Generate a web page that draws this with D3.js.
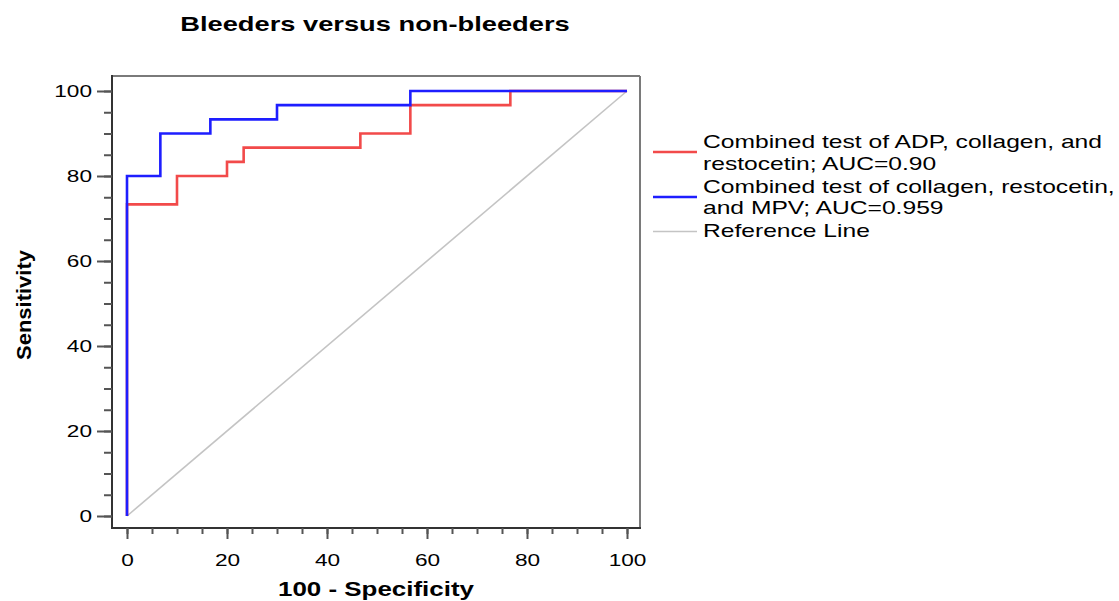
<!DOCTYPE html>
<html>
<head>
<meta charset="utf-8">
<script src="https://cdn.jsdelivr.net/npm/d3@7"></script>
<style>
  html, body { margin: 0; padding: 0; background: #fff; }
  svg { display: block; }
  text { font-family: "Liberation Sans", Arial, sans-serif; fill: #000; }
</style>
</head>
<body>
<svg id="chart" width="1119" height="601"></svg>
<script>
// ---- Data ----
const titleText = "Bleeders versus non-bleeders";
const xLabel = "100 - Specificity";
const yLabel = "Sensitivity";
const majorTicks = [0, 20, 40, 60, 80, 100];
const minorTicks = [0, 5, 10, 15, 20, 25, 30, 35, 40, 45, 50, 55, 60, 65, 70, 75, 80, 85, 90, 95, 100];

// ROC corner points (100 - specificity, sensitivity)
const adpX = [0, 0, 10, 20, 23.33, 46.67, 56.67, 76.67, 100];
const adpY = [0, 73.33, 80, 83.33, 86.67, 90, 96.67, 100, 100];
const mpvX = [0, 0, 6.67, 16.67, 30, 56.67, 100];
const mpvY = [0, 80, 90, 93.33, 96.67, 100, 100];
const refX = [0, 100];
const refY = [0, 100];

const seriesNames = [
  ["Combined test of ADP, collagen, and", "restocetin; AUC=0.90"],
  ["Combined test of collagen, restocetin,", "and MPV; AUC=0.959"],
  ["Reference Line"]
];

// ---- Layout ----
const svg = d3.select("#chart");
const SX = 1.33; // horizontal text stretch seen in the reference
const frame = {left: 112, right: 640, top: 76, bottom: 528};
const x = d3.scaleLinear().domain([0, 100]).range([127, 627]);
const y = d3.scaleLinear().domain([0, 100]).range([516, 91]);

function stretch(sel, factor) {
  sel.each(function() {
    const len = this.getComputedTextLength();
    d3.select(this).attr("textLength", len * factor).attr("lengthAdjust", "spacingAndGlyphs");
  });
}

// Title
svg.append("text")
  .attr("x", 375).attr("y", 31)
  .attr("text-anchor", "middle")
  .style("font-size", "20.5px").style("font-weight", "bold")
  .text(titleText)
  .call(stretch, SX);

// Frame (top/right grey, left/bottom dark)
svg.append("line").attr("x1", frame.left).attr("x2", frame.right).attr("y1", frame.top).attr("y2", frame.top)
  .attr("stroke", "#7a7a7a").attr("stroke-width", 2);
svg.append("line").attr("x1", frame.right).attr("x2", frame.right).attr("y1", frame.top).attr("y2", frame.bottom)
  .attr("stroke", "#7a7a7a").attr("stroke-width", 2);
svg.append("line").attr("x1", frame.left).attr("x2", frame.left).attr("y1", frame.top - 1).attr("y2", frame.bottom + 1)
  .attr("stroke", "#333").attr("stroke-width", 2);
svg.append("line").attr("x1", frame.left - 1).attr("x2", frame.right + 1).attr("y1", frame.bottom).attr("y2", frame.bottom)
  .attr("stroke", "#333").attr("stroke-width", 2);

// Axes
const yMinor = svg.append("g").attr("transform", `translate(${frame.left},0)`)
  .call(d3.axisLeft(y).tickValues(minorTicks).tickSize(8).tickFormat(""));
const yMajor = svg.append("g").attr("transform", `translate(${frame.left},0)`)
  .call(d3.axisLeft(y).tickValues(majorTicks).tickSize(15).tickPadding(5).tickFormat(d3.format("d")));
const xMinor = svg.append("g").attr("transform", `translate(0,${frame.bottom})`)
  .call(d3.axisBottom(x).tickValues(minorTicks).tickSize(6).tickFormat(""));
const xMajor = svg.append("g").attr("transform", `translate(0,${frame.bottom})`)
  .call(d3.axisBottom(x).tickValues(majorTicks).tickSize(11).tickPadding(15).tickFormat(d3.format("d")));

[yMinor, yMajor, xMinor, xMajor].forEach(g => {
  g.select(".domain").remove();
  g.selectAll(".tick line").attr("stroke", "#555").attr("stroke-width", 2);
  g.selectAll(".tick text")
    .style("font-size", "17px")
    .style("font-family", "'Liberation Sans', Arial, sans-serif")
    .attr("fill", "#000")
    .call(stretch, SX);
});

// Axis titles
svg.append("text")
  .attr("x", 376).attr("y", 596)
  .attr("text-anchor", "middle")
  .style("font-size", "19.5px").style("font-weight", "bold")
  .text(xLabel)
  .call(stretch, SX);

svg.append("text")
  .attr("transform", "translate(31,305) rotate(-90)")
  .attr("text-anchor", "middle")
  .style("font-size", "20px").style("font-weight", "bold")
  .text(yLabel)
  .each(function() {
    d3.select(this).attr("textLength", 110).attr("lengthAdjust", "spacingAndGlyphs");
  });

// Lines
const line = d3.line().x(d => x(d[0])).y(d => y(d[1]));
const stepLine = d3.line().x(d => x(d[0])).y(d => y(d[1])).curve(d3.curveStepAfter);

svg.append("path").datum(d3.zip(refX, refY))
  .attr("d", line).attr("fill", "none").attr("stroke", "#c4c4c4").attr("stroke-width", 1.6);
svg.append("path").datum(d3.zip(adpX, adpY))
  .attr("d", stepLine).attr("fill", "none").attr("stroke", "#f24a4a").attr("stroke-width", 2.6);
svg.append("path").datum(d3.zip(mpvX, mpvY))
  .attr("d", stepLine).attr("fill", "none").attr("stroke", "#1e1eff").attr("stroke-width", 2.6);

// Legend
const legendColors = ["#f24a4a", "#1e1eff", "#c4c4c4"];
const legendWidths = [2.6, 2.6, 1.6];
const legendBaselines = [[148, 169.5], [193, 214], [237]];
const swatchY = [152, 197, 231.5];
seriesNames.forEach((lines, i) => {
  svg.append("line")
    .attr("x1", 653).attr("x2", 697).attr("y1", swatchY[i]).attr("y2", swatchY[i])
    .attr("stroke", legendColors[i]).attr("stroke-width", legendWidths[i]);
  lines.forEach((t, j) => {
    svg.append("text")
      .attr("x", 703).attr("y", legendBaselines[i][j])
      .style("font-size", "18.5px")
      .text(t)
      .call(stretch, SX);
  });
});
</script>
</body>
</html>
